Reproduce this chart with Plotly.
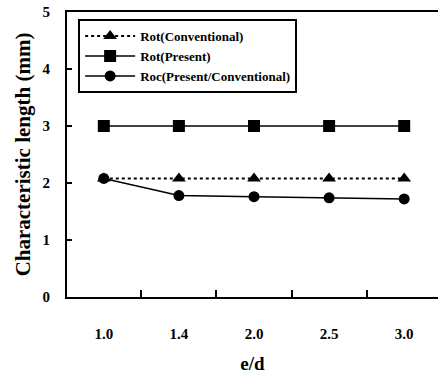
import plotly.graph_objects as go

categories = ["1.0", "1.4", "2.0", "2.5", "3.0"]
rot_conv = [2.08, 2.08, 2.08, 2.08, 2.08]
rot_present = [3.0, 3.0, 3.0, 3.0, 3.0]
roc = [2.08, 1.78, 1.76, 1.74, 1.72]
y_ticks = [0, 1, 2, 3, 4, 5]

FONT = "Liberation Serif, Times New Roman, DejaVu Serif, serif"

fig = go.Figure()
fig.add_trace(go.Scatter(
    x=categories, y=rot_conv, name="Rot(Conventional)", mode="lines+markers",
    line=dict(color="black", width=2, dash="dot"),
    marker=dict(symbol="triangle-up", size=12, color="black")))
fig.add_trace(go.Scatter(
    x=categories, y=rot_present, name="Rot(Present)", mode="lines+markers",
    line=dict(color="black", width=1.5),
    marker=dict(symbol="square", size=12, color="black")))
fig.add_trace(go.Scatter(
    x=categories, y=roc, name="Roc(Present/Conventional)", mode="lines+markers",
    line=dict(color="black", width=1.5),
    marker=dict(symbol="circle", size=11, color="black")))

xr = [-0.49, 4.45]
fig.update_layout(
    width=438, height=374,
    margin=dict(l=67, r=0, t=12, b=77),
    paper_bgcolor="white", plot_bgcolor="white",
    font=dict(family=FONT, color="black", size=15, weight="bold"),
    legend=dict(x=0.03, y=0.975, xanchor="left", yanchor="top",
                bordercolor="black", borderwidth=2, bgcolor="white",
                font=dict(family=FONT, size=13, weight="bold"),
                tracegroupgap=0, itemwidth=50),
    xaxis=dict(type="category", range=xr,
               showline=True, linecolor="black", linewidth=2, mirror=True,
               ticks="inside", tickson="boundaries", ticklen=7, tickwidth=2,
               tickcolor="black", showgrid=False, zeroline=False,
               tickfont=dict(family=FONT, size=15), ticklabelstandoff=22,
               title=dict(text="e/d", font=dict(family=FONT, size=19), standoff=16)),
    yaxis=dict(range=[0, 5], tickvals=y_ticks,
               showline=True, linecolor="black", linewidth=2, mirror=False,
               ticks="inside", ticklen=5, tickwidth=2, tickcolor="black",
               showgrid=False, zeroline=False,
               tickfont=dict(family=FONT, size=15), ticklabelstandoff=12,
               title=dict(text="Characteristic length (mm)",
                          font=dict(family=FONT, size=21), standoff=6)),
    showlegend=True,
)

fig.write_html("out.html")
